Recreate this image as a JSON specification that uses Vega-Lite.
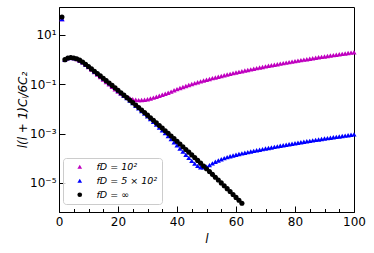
{
"$schema": "https://vega.github.io/schema/vega-lite/v6.json",
"width": 295, "height": 205,
"autosize": {"type": "none"},
"padding": {"left": 59, "top": 7, "right": 20, "bottom": 41},
"background": "white",
"config": {
  "view": {"stroke": "#000", "strokeWidth": 1},
  "font": "DejaVu Sans",
  "axis": {"grid": false, "labelFont": "DejaVu Sans", "titleFont": "DejaVu Sans", "tickColor": "#000", "domainColor": "#000", "labelColor": "#000", "titleColor": "#000", "titleFontWeight": "normal", "tickWidth": 1, "domainWidth": 1}
},
"datasets": {
 "pts": [
{"l":1,"v":44.7,"s":"fD = 10²"},{"l":2,"v":0.998,"s":"fD = 10²"},{"l":3,"v":1.156,"s":"fD = 10²"},{"l":4,"v":1.205,"s":"fD = 10²"},{"l":5,"v":1.159,"s":"fD = 10²"},{"l":6,"v":1.062,"s":"fD = 10²"},{"l":7,"v":0.929,"s":"fD = 10²"},{"l":8,"v":0.776,"s":"fD = 10²"},{"l":9,"v":0.625,"s":"fD = 10²"},{"l":10,"v":0.497,"s":"fD = 10²"},
{"l":11,"v":0.396,"s":"fD = 10²"},{"l":12,"v":0.315,"s":"fD = 10²"},{"l":13,"v":0.25,"s":"fD = 10²"},{"l":14,"v":0.199,"s":"fD = 10²"},{"l":15,"v":0.157,"s":"fD = 10²"},{"l":16,"v":0.125,"s":"fD = 10²"},{"l":17,"v":0.0993,"s":"fD = 10²"},{"l":18,"v":0.0791,"s":"fD = 10²"},{"l":19,"v":0.0632,"s":"fD = 10²"},{"l":20,"v":0.0507,"s":"fD = 10²"},
{"l":21,"v":0.0419,"s":"fD = 10²"},{"l":22,"v":0.0353,"s":"fD = 10²"},{"l":23,"v":0.0305,"s":"fD = 10²"},{"l":24,"v":0.0272,"s":"fD = 10²"},{"l":25,"v":0.0249,"s":"fD = 10²"},{"l":26,"v":0.0236,"s":"fD = 10²"},{"l":27,"v":0.0229,"s":"fD = 10²"},{"l":28,"v":0.023,"s":"fD = 10²"},{"l":29,"v":0.0237,"s":"fD = 10²"},{"l":30,"v":0.025,"s":"fD = 10²"},
{"l":31,"v":0.0267,"s":"fD = 10²"},{"l":32,"v":0.0288,"s":"fD = 10²"},{"l":33,"v":0.0314,"s":"fD = 10²"},{"l":34,"v":0.0343,"s":"fD = 10²"},{"l":35,"v":0.0376,"s":"fD = 10²"},{"l":36,"v":0.0414,"s":"fD = 10²"},{"l":37,"v":0.0457,"s":"fD = 10²"},{"l":38,"v":0.0506,"s":"fD = 10²"},{"l":39,"v":0.0575,"s":"fD = 10²"},{"l":40,"v":0.0638,"s":"fD = 10²"},
{"l":41,"v":0.0708,"s":"fD = 10²"},{"l":42,"v":0.078,"s":"fD = 10²"},{"l":43,"v":0.0855,"s":"fD = 10²"},{"l":44,"v":0.094,"s":"fD = 10²"},{"l":45,"v":0.1028,"s":"fD = 10²"},{"l":46,"v":0.1122,"s":"fD = 10²"},{"l":47,"v":0.1219,"s":"fD = 10²"},{"l":48,"v":0.1321,"s":"fD = 10²"},{"l":49,"v":0.1426,"s":"fD = 10²"},{"l":50,"v":0.1538,"s":"fD = 10²"},
{"l":51,"v":0.1652,"s":"fD = 10²"},{"l":52,"v":0.1778,"s":"fD = 10²"},{"l":53,"v":0.1905,"s":"fD = 10²"},{"l":54,"v":0.2042,"s":"fD = 10²"},{"l":55,"v":0.2188,"s":"fD = 10²"},{"l":56,"v":0.2339,"s":"fD = 10²"},{"l":57,"v":0.2495,"s":"fD = 10²"},{"l":58,"v":0.2661,"s":"fD = 10²"},{"l":59,"v":0.2838,"s":"fD = 10²"},{"l":60,"v":0.302,"s":"fD = 10²"},
{"l":61,"v":0.3206,"s":"fD = 10²"},{"l":62,"v":0.3404,"s":"fD = 10²"},{"l":63,"v":0.3614,"s":"fD = 10²"},{"l":64,"v":0.3828,"s":"fD = 10²"},{"l":65,"v":0.4055,"s":"fD = 10²"},{"l":66,"v":0.4285,"s":"fD = 10²"},{"l":67,"v":0.4539,"s":"fD = 10²"},{"l":68,"v":0.4797,"s":"fD = 10²"},{"l":69,"v":0.5058,"s":"fD = 10²"},{"l":70,"v":0.5333,"s":"fD = 10²"},
{"l":71,"v":0.5623,"s":"fD = 10²"},{"l":72,"v":0.5916,"s":"fD = 10²"},{"l":73,"v":0.6223,"s":"fD = 10²"},{"l":74,"v":0.6546,"s":"fD = 10²"},{"l":75,"v":0.6887,"s":"fD = 10²"},{"l":76,"v":0.7228,"s":"fD = 10²"},{"l":77,"v":0.7586,"s":"fD = 10²"},{"l":78,"v":0.7962,"s":"fD = 10²"},{"l":79,"v":0.8337,"s":"fD = 10²"},{"l":80,"v":0.875,"s":"fD = 10²"},
{"l":81,"v":0.9162,"s":"fD = 10²"},{"l":82,"v":0.9572,"s":"fD = 10²"},{"l":83,"v":1.002,"s":"fD = 10²"},{"l":84,"v":1.047,"s":"fD = 10²"},{"l":85,"v":1.094,"s":"fD = 10²"},{"l":86,"v":1.143,"s":"fD = 10²"},{"l":87,"v":1.194,"s":"fD = 10²"},{"l":88,"v":1.245,"s":"fD = 10²"},{"l":89,"v":1.297,"s":"fD = 10²"},{"l":90,"v":1.352,"s":"fD = 10²"},
{"l":91,"v":1.409,"s":"fD = 10²"},{"l":92,"v":1.466,"s":"fD = 10²"},{"l":93,"v":1.528,"s":"fD = 10²"},{"l":94,"v":1.589,"s":"fD = 10²"},{"l":95,"v":1.652,"s":"fD = 10²"},{"l":96,"v":1.718,"s":"fD = 10²"},{"l":97,"v":1.786,"s":"fD = 10²"},{"l":98,"v":1.854,"s":"fD = 10²"},{"l":99,"v":1.923,"s":"fD = 10²"},{"l":100,"v":1.995,"s":"fD = 10²"},
{"l":1,"v":44.7,"s":"fD = 5 × 10²"},{"l":2,"v":1.0,"s":"fD = 5 × 10²"},{"l":3,"v":1.16,"s":"fD = 5 × 10²"},{"l":4,"v":1.216,"s":"fD = 5 × 10²"},{"l":5,"v":1.175,"s":"fD = 5 × 10²"},{"l":6,"v":1.084,"s":"fD = 5 × 10²"},{"l":7,"v":0.955,"s":"fD = 5 × 10²"},{"l":8,"v":0.804,"s":"fD = 5 × 10²"},{"l":9,"v":0.653,"s":"fD = 5 × 10²"},{"l":10,"v":0.525,"s":"fD = 5 × 10²"},
{"l":11,"v":0.423,"s":"fD = 5 × 10²"},{"l":12,"v":0.34,"s":"fD = 5 × 10²"},{"l":13,"v":0.274,"s":"fD = 5 × 10²"},{"l":14,"v":0.22,"s":"fD = 5 × 10²"},{"l":15,"v":0.176,"s":"fD = 5 × 10²"},{"l":16,"v":0.141,"s":"fD = 5 × 10²"},{"l":17,"v":0.113,"s":"fD = 5 × 10²"},{"l":18,"v":0.0904,"s":"fD = 5 × 10²"},{"l":19,"v":0.0721,"s":"fD = 5 × 10²"},{"l":20,"v":0.0564,"s":"fD = 5 × 10²"},
{"l":21,"v":0.0447,"s":"fD = 5 × 10²"},{"l":22,"v":0.0353,"s":"fD = 5 × 10²"},{"l":23,"v":0.0279,"s":"fD = 5 × 10²"},{"l":24,"v":0.022,"s":"fD = 5 × 10²"},{"l":25,"v":0.0173,"s":"fD = 5 × 10²"},{"l":26,"v":0.01358,"s":"fD = 5 × 10²"},{"l":27,"v":0.01064,"s":"fD = 5 × 10²"},{"l":28,"v":0.00832,"s":"fD = 5 × 10²"},{"l":29,"v":0.00649,"s":"fD = 5 × 10²"},{"l":30,"v":0.00505,"s":"fD = 5 × 10²"},
{"l":31,"v":0.00391,"s":"fD = 5 × 10²"},{"l":32,"v":0.00302,"s":"fD = 5 × 10²"},{"l":33,"v":0.002333,"s":"fD = 5 × 10²"},{"l":34,"v":0.001791,"s":"fD = 5 × 10²"},{"l":35,"v":0.001374,"s":"fD = 5 × 10²"},{"l":36,"v":0.00105,"s":"fD = 5 × 10²"},{"l":37,"v":0.000794,"s":"fD = 5 × 10²"},{"l":38,"v":0.0006,"s":"fD = 5 × 10²"},{"l":39,"v":0.000451,"s":"fD = 5 × 10²"},{"l":40,"v":0.0003373,"s":"fD = 5 × 10²"},
{"l":41,"v":0.0002512,"s":"fD = 5 × 10²"},{"l":42,"v":0.0001871,"s":"fD = 5 × 10²"},{"l":43,"v":0.0001393,"s":"fD = 5 × 10²"},{"l":44,"v":0.0001042,"s":"fD = 5 × 10²"},{"l":45,"v":7.89e-5,"s":"fD = 5 × 10²"},{"l":46,"v":6.1e-5,"s":"fD = 5 × 10²"},{"l":47,"v":4.95e-5,"s":"fD = 5 × 10²"},{"l":48,"v":4.37e-5,"s":"fD = 5 × 10²"},{"l":49,"v":4.29e-5,"s":"fD = 5 × 10²"},{"l":50,"v":4.62e-5,"s":"fD = 5 × 10²"},
{"l":51,"v":5.31e-5,"s":"fD = 5 × 10²"},{"l":52,"v":6.24e-5,"s":"fD = 5 × 10²"},{"l":53,"v":7.24e-5,"s":"fD = 5 × 10²"},{"l":54,"v":8.22e-5,"s":"fD = 5 × 10²"},{"l":55,"v":9.23e-5,"s":"fD = 5 × 10²"},{"l":56,"v":1.023e-4,"s":"fD = 5 × 10²"},{"l":57,"v":1.122e-4,"s":"fD = 5 × 10²"},{"l":58,"v":1.216e-4,"s":"fD = 5 × 10²"},{"l":59,"v":1.303e-4,"s":"fD = 5 × 10²"},{"l":60,"v":1.396e-4,"s":"fD = 5 × 10²"},
{"l":61,"v":1.5e-4,"s":"fD = 5 × 10²"},{"l":62,"v":1.592e-4,"s":"fD = 5 × 10²"},{"l":63,"v":1.69e-4,"s":"fD = 5 × 10²"},{"l":64,"v":1.791e-4,"s":"fD = 5 × 10²"},{"l":65,"v":1.897e-4,"s":"fD = 5 × 10²"},{"l":66,"v":2.004e-4,"s":"fD = 5 × 10²"},{"l":67,"v":2.123e-4,"s":"fD = 5 × 10²"},{"l":68,"v":2.244e-4,"s":"fD = 5 × 10²"},{"l":69,"v":2.366e-4,"s":"fD = 5 × 10²"},{"l":70,"v":2.495e-4,"s":"fD = 5 × 10²"},
{"l":71,"v":2.63e-4,"s":"fD = 5 × 10²"},{"l":72,"v":2.767e-4,"s":"fD = 5 × 10²"},{"l":73,"v":2.911e-4,"s":"fD = 5 × 10²"},{"l":74,"v":3.062e-4,"s":"fD = 5 × 10²"},{"l":75,"v":3.221e-4,"s":"fD = 5 × 10²"},{"l":76,"v":3.381e-4,"s":"fD = 5 × 10²"},{"l":77,"v":3.548e-4,"s":"fD = 5 × 10²"},{"l":78,"v":3.724e-4,"s":"fD = 5 × 10²"},{"l":79,"v":3.899e-4,"s":"fD = 5 × 10²"},{"l":80,"v":4.093e-4,"s":"fD = 5 × 10²"},
{"l":81,"v":4.285e-4,"s":"fD = 5 × 10²"},{"l":82,"v":4.477e-4,"s":"fD = 5 × 10²"},{"l":83,"v":4.688e-4,"s":"fD = 5 × 10²"},{"l":84,"v":4.898e-4,"s":"fD = 5 × 10²"},{"l":85,"v":5.117e-4,"s":"fD = 5 × 10²"},{"l":86,"v":5.346e-4,"s":"fD = 5 × 10²"},{"l":87,"v":5.585e-4,"s":"fD = 5 × 10²"},{"l":88,"v":5.821e-4,"s":"fD = 5 × 10²"},{"l":89,"v":6.067e-4,"s":"fD = 5 × 10²"},{"l":90,"v":6.324e-4,"s":"fD = 5 × 10²"},
{"l":91,"v":6.592e-4,"s":"fD = 5 × 10²"},{"l":92,"v":6.855e-4,"s":"fD = 5 × 10²"},{"l":93,"v":7.145e-4,"s":"fD = 5 × 10²"},{"l":94,"v":7.43e-4,"s":"fD = 5 × 10²"},{"l":95,"v":7.727e-4,"s":"fD = 5 × 10²"},{"l":96,"v":8.035e-4,"s":"fD = 5 × 10²"},{"l":97,"v":8.356e-4,"s":"fD = 5 × 10²"},{"l":98,"v":8.67e-4,"s":"fD = 5 × 10²"},{"l":99,"v":8.995e-4,"s":"fD = 5 × 10²"},{"l":100,"v":9.333e-4,"s":"fD = 5 × 10²"},
{"l":1,"v":53.7,"s":"fD = ∞"},{"l":2,"v":1.0,"s":"fD = ∞"},{"l":3,"v":1.16,"s":"fD = ∞"},{"l":4,"v":1.216,"s":"fD = ∞"},{"l":5,"v":1.175,"s":"fD = ∞"},{"l":6,"v":1.084,"s":"fD = ∞"},{"l":7,"v":0.955,"s":"fD = ∞"},{"l":8,"v":0.804,"s":"fD = ∞"},{"l":9,"v":0.653,"s":"fD = ∞"},{"l":10,"v":0.525,"s":"fD = ∞"},
{"l":11,"v":0.423,"s":"fD = ∞"},{"l":12,"v":0.34,"s":"fD = ∞"},{"l":13,"v":0.274,"s":"fD = ∞"},{"l":14,"v":0.22,"s":"fD = ∞"},{"l":15,"v":0.176,"s":"fD = ∞"},{"l":16,"v":0.141,"s":"fD = ∞"},{"l":17,"v":0.113,"s":"fD = ∞"},{"l":18,"v":0.0904,"s":"fD = ∞"},{"l":19,"v":0.0721,"s":"fD = ∞"},{"l":20,"v":0.0575,"s":"fD = ∞"},
{"l":21,"v":0.0458,"s":"fD = ∞"},{"l":22,"v":0.0365,"s":"fD = ∞"},{"l":23,"v":0.029,"s":"fD = ∞"},{"l":24,"v":0.023,"s":"fD = ∞"},{"l":25,"v":0.0182,"s":"fD = ∞"},{"l":26,"v":0.01445,"s":"fD = ∞"},{"l":27,"v":0.01143,"s":"fD = ∞"},{"l":28,"v":0.009036,"s":"fD = ∞"},{"l":29,"v":0.00713,"s":"fD = ∞"},{"l":30,"v":0.00562,"s":"fD = ∞"},
{"l":31,"v":0.00443,"s":"fD = ∞"},{"l":32,"v":0.003475,"s":"fD = ∞"},{"l":33,"v":0.002735,"s":"fD = ∞"},{"l":34,"v":0.002143,"s":"fD = ∞"},{"l":35,"v":0.001683,"s":"fD = ∞"},{"l":36,"v":0.001315,"s":"fD = ∞"},{"l":37,"v":0.001028,"s":"fD = ∞"},{"l":38,"v":0.000804,"s":"fD = ∞"},{"l":39,"v":0.000627,"s":"fD = ∞"},{"l":40,"v":0.000489,"s":"fD = ∞"},
{"l":41,"v":0.00038,"s":"fD = ∞"},{"l":42,"v":0.0002958,"s":"fD = ∞"},{"l":43,"v":0.0002296,"s":"fD = ∞"},{"l":44,"v":0.0001782,"s":"fD = ∞"},{"l":45,"v":0.000138,"s":"fD = ∞"},{"l":46,"v":0.0001069,"s":"fD = ∞"},{"l":47,"v":8.26e-5,"s":"fD = ∞"},{"l":48,"v":6.38e-5,"s":"fD = ∞"},{"l":49,"v":4.92e-5,"s":"fD = ∞"},{"l":50,"v":3.78e-5,"s":"fD = ∞"},
{"l":51,"v":2.917e-5,"s":"fD = ∞"},{"l":52,"v":2.239e-5,"s":"fD = ∞"},{"l":53,"v":1.718e-5,"s":"fD = ∞"},{"l":54,"v":1.318e-5,"s":"fD = ∞"},{"l":55,"v":1.009e-5,"s":"fD = ∞"},{"l":56,"v":7.73e-6,"s":"fD = ∞"},{"l":57,"v":5.9e-6,"s":"fD = ∞"},{"l":58,"v":4.51e-6,"s":"fD = ∞"},{"l":59,"v":3.436e-6,"s":"fD = ∞"},{"l":60,"v":2.612e-6,"s":"fD = ∞"},
{"l":61,"v":1.991e-6,"s":"fD = ∞"},{"l":62,"v":1.51e-6,"s":"fD = ∞"}
 ]
},
"data": {"name": "pts"},
"layer": [
 {
  "mark": {"type": "point", "filled": true, "opacity": 1, "size": 26},
  "encoding": {
   "x": {"field": "l", "type": "quantitative", "scale": {"domain": [0, 100], "nice": false, "zero": false},
     "axis": {"orient": "bottom", "values": [0,20,40,60,80,100], "tickSize": -6, "labelPadding": 10, "labelFontSize": 12, "title": "l", "titleFontStyle": "italic", "titleFontSize": 12, "titleX": 147.5, "titleY": 26, "titleBaseline": "middle", "labelFlush": false}},
   "y": {"field": "v", "type": "quantitative", "scale": {"type": "log", "domain": [6.67e-7, 136.5], "nice": false},
     "axis": {"orient": "left", "values": [1e-5, 0.001, 0.1, 10], "tickSize": -6, "labelPadding": 9, "labelFontSize": 12,
       "labelExpr": "datum.value > 1 ? '10¹' : datum.value > 0.01 ? '10⁻¹' : datum.value > 0.0001 ? '10⁻³' : '10⁻⁵'",
       "title": "l(l + 1)Cₗ/6C₂", "titleFontStyle": "italic", "titleFontSize": 12, "titleX": -37, "titleY": 102.5, "titleAngle": -90, "titleAlign": "center", "titleBaseline": "middle"}},
   "color": {"field": "s", "type": "nominal", "sort": null,
     "scale": {"domain": ["fD = 10²", "fD = 5 × 10²", "fD = ∞"], "range": ["#bf00bf", "#0000ff", "#000000"]},
     "legend": {"orient": "none", "legendX": 4, "legendY": 151, "title": null, "labelFontSize": 9.5, "labelFontStyle": "italic", "labelFont": "DejaVu Sans", "symbolSize": 22, "strokeColor": "#cccccc", "fillColor": "rgba(255,255,255,0.8)", "cornerRadius": 3, "padding": 4, "rowPadding": 3, "symbolOffset": 8, "labelOffset": 12}},
   "shape": {"field": "s", "type": "nominal", "sort": null,
     "scale": {"domain": ["fD = 10²", "fD = 5 × 10²", "fD = ∞"], "range": ["triangle-up", "triangle-up", "circle"]}}
  }
 },
 {
  "mark": {"type": "point", "opacity": 0, "size": 0},
  "encoding": {
   "x": {"field": "l", "type": "quantitative", "scale": {"domain": [0, 100], "nice": false, "zero": false},
     "axis": {"orient": "bottom", "values": [5,10,15,25,30,35,45,50,55,65,70,75,85,90,95], "labels": false, "domain": false, "title": null, "tickSize": -3.5}}
  }
 }
],
"resolve": {"axis": {"x": "independent"}}
}
